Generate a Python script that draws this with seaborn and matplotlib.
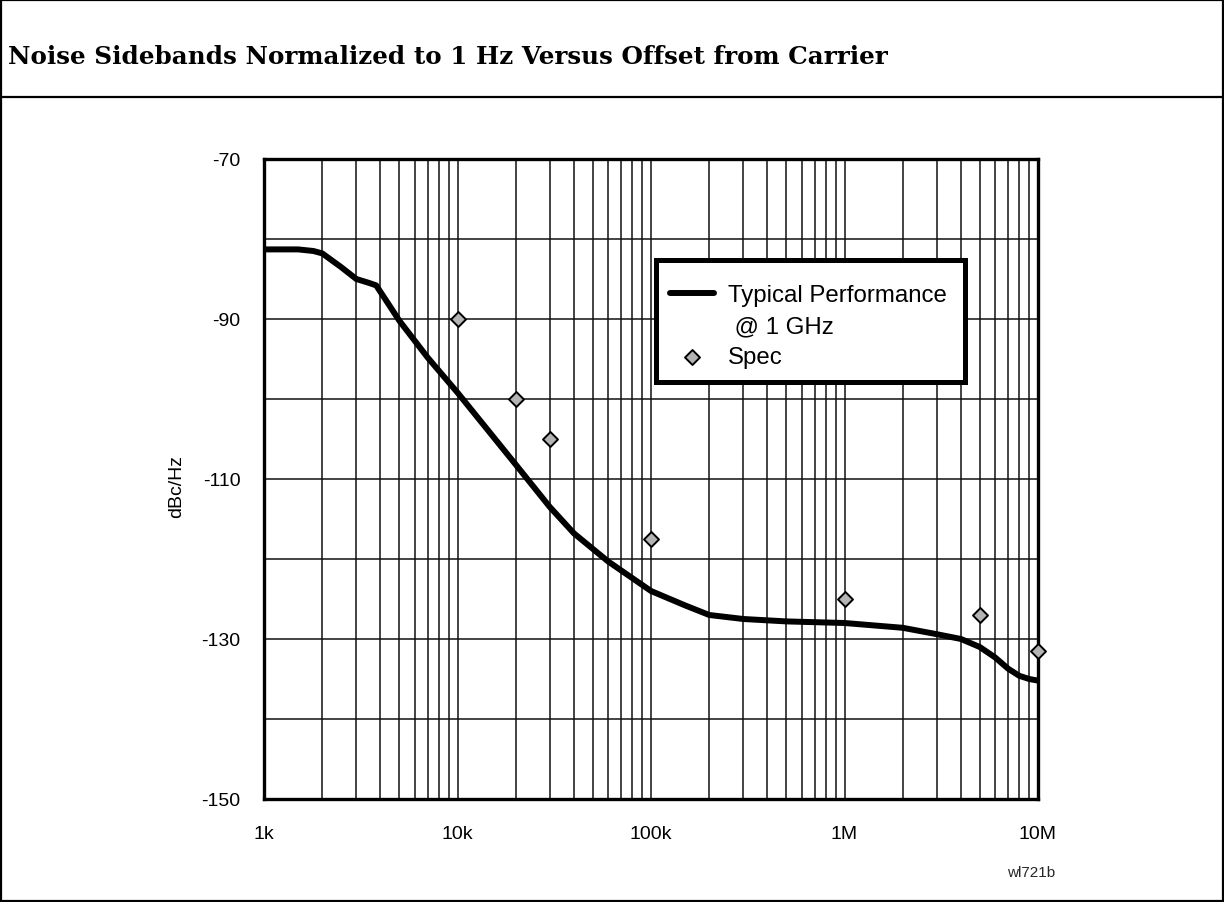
import matplotlib
matplotlib.use("Agg")
import matplotlib.pyplot as plt
import seaborn as sns
import pandas as pd
from matplotlib.lines import Line2D
from matplotlib.patches import Rectangle
from matplotlib.ticker import FixedLocator, NullFormatter

# ---- data ----
curve_freq = [1000, 1500, 1800, 2000, 2500, 3000, 3500, 3800, 4500, 5000, 7000,
              10000, 20000, 30000, 40000, 60000, 100000, 150000, 200000, 300000,
              500000, 1e6, 2e6, 3e6, 4e6, 5e6, 6e6, 7e6, 8e6, 9e6, 1e7]
curve_db = [-81.3, -81.3, -81.5, -81.8, -83.5, -85.0, -85.5, -85.8, -88.5, -90.2, -94.8,
            -99.2, -108.2, -113.5, -116.8, -120.3, -124.0, -125.8, -127.0, -127.5,
            -127.8, -128.0, -128.6, -129.4, -130.0, -131.0, -132.3, -133.7, -134.6, -135.0, -135.2]
spec_freq = [1e4, 2e4, 3e4, 1e5, 1e6, 5e6, 1e7]
spec_db = [-90, -100, -105, -117.5, -125, -127, -131.5]

x_tick_vals = [1e3, 1e4, 1e5, 1e6, 1e7]
x_tick_labels = ["1k", "10k", "100k", "1M", "10M"]
y_tick_vals = [-150, -130, -110, -90, -70]
y_minor_vals = [-140, -120, -100, -80]

title = "Noise Sidebands Normalized to 1 Hz Versus Offset from Carrier"
legend_labels = ["Typical Performance", " @ 1 GHz", "Spec"]
ylabel = "dBc/Hz"
figure_id = "wl721b"

curve_df = pd.DataFrame({"freq": curve_freq, "db": curve_db})
spec_df = pd.DataFrame({"freq": spec_freq, "db": spec_db})

sns.set_style("white")
plt.rcParams["font.family"] = ["Liberation Sans", "DejaVu Sans"]
plt.rcParams["axes.unicode_minus"] = False

W, H = 1224, 903
fig = plt.figure(figsize=(W / 100, H / 100), dpi=100)

# frame and title separator
fig.add_artist(Rectangle((1 / W, 1 / H), (W - 2) / W, (H - 2) / H, transform=fig.transFigure,
                         fill=False, edgecolor="black", linewidth=1.6))
fig.add_artist(Line2D([0, 1], [1 - 97.5 / H, 1 - 97.5 / H], transform=fig.transFigure,
                      color="black", linewidth=1.6))
fig.text(8 / W, 1 - 57 / H, title, fontsize=17.7, fontweight="bold", family="DejaVu Serif",
         va="center", ha="left", color="black")

ax = fig.add_axes([264 / W, 1 - 800 / H, 774 / W, 640 / H])
ax.set_xscale("log")

sns.lineplot(data=curve_df, x="freq", y="db", ax=ax, color="black", linewidth=4.3,
             label=legend_labels[0], zorder=4)
sns.scatterplot(data=spec_df, x="freq", y="db", ax=ax, marker="D", s=58, color="#b4b4b4",
                edgecolor="black", linewidth=1.4, label=legend_labels[2], zorder=8,
                clip_on=False)

ax.set_xlim(1e3, 1e7)
ax.set_ylim(-150, -70)

ax.xaxis.set_major_locator(FixedLocator(x_tick_vals))
ax.set_xticklabels(x_tick_labels)
minor_x = [m * d for d in [1e3, 1e4, 1e5, 1e6] for m in range(2, 10)]
ax.xaxis.set_minor_locator(FixedLocator(minor_x))
ax.xaxis.set_minor_formatter(NullFormatter())
ax.set_yticks(y_tick_vals)
ax.set_yticks(y_minor_vals, minor=True)

ax.tick_params(axis="both", which="major", direction="out", length=9, width=1.0,
               color="black", labelsize=14, labelcolor="black")
ax.tick_params(axis="x", which="major", pad=10)
ax.tick_params(axis="y", which="major", pad=8)
ax.tick_params(which="minor", length=0)
ax.grid(True, which="both", color="#111111", linewidth=1.1)
ax.set_axisbelow(True)
for s in ax.spines.values():
    s.set_visible(True)
    s.set_color("black")
    s.set_linewidth(2.4)
    s.set_zorder(6)

ax.set_xlabel("")
ax.set_ylabel(ylabel, fontsize=14, color="black")
ax.yaxis.set_label_coords((185 - 264) / 774, 0.49)

# legend box (drawn separately so its size matches the reference)
ax.add_patch(Rectangle(((655.5 - 264) / 774, (800 - 382.5) / 640),
                       (964.5 - 655.5) / 774, (382.5 - 260.5) / 640,
                       transform=ax.transAxes, facecolor="white", edgecolor="black",
                       linewidth=3.6, zorder=8.5, clip_on=False))

handles, labels = ax.get_legend_handles_labels()
empty = Line2D([], [], linestyle="none")
leg = ax.legend([handles[0], empty, handles[1]], legend_labels, loc="upper left",
                bbox_to_anchor=((670 - 264) / 774, (800 - 285) / 640),
                frameon=False, fontsize=17.3, handlelength=1.82, handletextpad=0.6,
                borderpad=0, labelspacing=0.38, borderaxespad=0, labelcolor="black")
leg.set_zorder(9)

fig.text(1007 / W, 1 - 873 / H, figure_id, fontsize=11, ha="left", va="center")

fig.savefig("out.png", dpi=100)
